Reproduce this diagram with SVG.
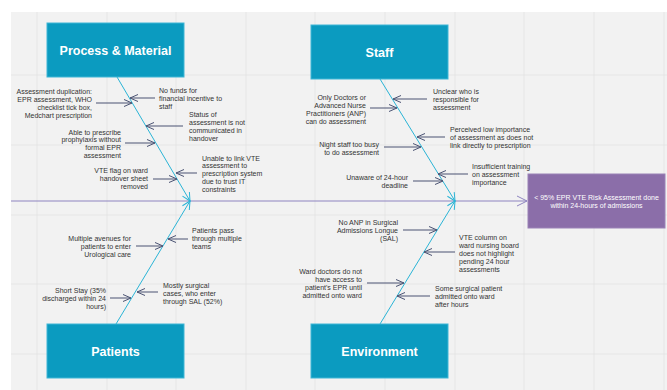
<svg xmlns="http://www.w3.org/2000/svg" width="667" height="390" viewBox="0 0 667 390">
<defs>
<style>
.t{font-family:"Liberation Sans",Arial,sans-serif;font-size:7px;fill:#333}
.e{text-anchor:end}
.h{font-family:"Liberation Sans",Arial,sans-serif;font-size:12.5px;font-weight:bold;fill:#fff;text-anchor:middle}
.box{fill:#0b9bc0;stroke:#3fb6d6;stroke-width:1}
.bone{stroke:#2ab4d6;stroke-width:1;fill:none;marker-end:url(#mb)}
.ca{stroke:#4a5272;stroke-width:1;fill:none;marker-end:url(#mc)}
.g{stroke:#e3e3e3;stroke-width:0.8}
</style>
<marker id="mb" markerUnits="userSpaceOnUse" markerWidth="10" markerHeight="10" viewBox="0 0 10 10" refX="9" refY="5" orient="auto"><path d="M1,1 L9,5 L1,9" fill="none" stroke="#2ab4d6" stroke-width="1"/></marker>
<marker id="mc" markerUnits="userSpaceOnUse" markerWidth="10" markerHeight="10" viewBox="0 0 10 10" refX="9" refY="5" orient="auto"><path d="M1,1.5 L9,5 L1,8.5" fill="none" stroke="#4a5272" stroke-width="1"/></marker>
<marker id="ms" markerUnits="userSpaceOnUse" markerWidth="12" markerHeight="12" viewBox="0 0 12 12" refX="11" refY="6" orient="auto"><path d="M1,1 L11,6 L1,11" fill="none" stroke="#8e84c0" stroke-width="1"/></marker>
</defs>
<rect x="0" y="0" width="667" height="390" fill="#fff"/>
<rect x="11" y="12" width="656" height="378" fill="#f2f2f2"/>
<g id="grid">
<line class="g" x1="37" y1="12" x2="37" y2="390"/><line class="g" x1="107" y1="12" x2="107" y2="390"/><line class="g" x1="176" y1="12" x2="176" y2="390"/><line class="g" x1="246" y1="12" x2="246" y2="390"/><line class="g" x1="315" y1="12" x2="315" y2="390"/><line class="g" x1="385" y1="12" x2="385" y2="390"/><line class="g" x1="455" y1="12" x2="455" y2="390"/><line class="g" x1="524" y1="12" x2="524" y2="390"/><line class="g" x1="594" y1="12" x2="594" y2="390"/><line class="g" x1="664" y1="12" x2="664" y2="390"/>
<line class="g" x1="11" y1="75" x2="667" y2="75"/><line class="g" x1="11" y1="145" x2="667" y2="145"/><line class="g" x1="11" y1="215" x2="667" y2="215"/><line class="g" x1="11" y1="284" x2="667" y2="284"/><line class="g" x1="11" y1="354" x2="667" y2="354"/>
</g>
<g id="connectors">
<line x1="11" y1="201" x2="527" y2="201" stroke="#8e84c0" stroke-width="1" marker-end="url(#ms)"/>
<line class="bone" x1="117" y1="77" x2="190" y2="201"/>
<line class="bone" x1="116" y1="324" x2="190" y2="201"/>
<line class="bone" x1="380" y1="79" x2="455" y2="201"/>
<line class="bone" x1="380" y1="324" x2="455" y2="201"/>
<line class="ca" x1="96" y1="103" x2="132" y2="103"/>
<line class="ca" x1="155" y1="98" x2="130" y2="98"/>
<line class="ca" x1="183" y1="126" x2="146" y2="126"/>
<line class="ca" x1="125" y1="143" x2="155" y2="143"/>
<line class="ca" x1="197" y1="173" x2="176" y2="173"/>
<line class="ca" x1="153" y1="179" x2="177" y2="179"/>
<line class="ca" x1="370" y1="108" x2="397" y2="108"/>
<line class="ca" x1="427" y1="99" x2="393" y2="99"/>
<line class="ca" x1="445" y1="137" x2="417" y2="137"/>
<line class="ca" x1="384" y1="147" x2="421" y2="147"/>
<line class="ca" x1="468" y1="174" x2="438" y2="174"/>
<line class="ca" x1="413" y1="181" x2="443" y2="181"/>
<line class="ca" x1="136" y1="246" x2="163" y2="246"/>
<line class="ca" x1="188" y1="239" x2="168" y2="239"/>
<line class="ca" x1="110" y1="298" x2="131" y2="298"/>
<line class="ca" x1="158" y1="292" x2="137" y2="292"/>
<line class="ca" x1="403" y1="230" x2="437" y2="230"/>
<line class="ca" x1="455" y1="252" x2="424" y2="252"/>
<line class="ca" x1="367" y1="283" x2="404" y2="283"/>
<line class="ca" x1="430" y1="296" x2="397" y2="296"/>
</g>
<g id="process">
<rect class="box" x="47" y="23" width="137" height="54"/>
<text class="h" x="115.5" y="55">Process &amp; Material</text>
</g>
<g id="staff">
<rect class="box" x="311" y="25" width="137" height="54"/>
<text class="h" x="379.5" y="56.5">Staff</text>
</g>
<g id="patients">
<rect class="box" x="47" y="324" width="137" height="54"/>
<text class="h" x="115.5" y="355.5">Patients</text>
</g>
<g id="environment">
<rect class="box" x="311" y="324" width="137" height="54"/>
<text class="h" x="379.5" y="355.5">Environment</text>
</g>
<g id="effect">
<rect x="528" y="174" width="137" height="54" fill="#8b6ea9" stroke="#9a82b6" stroke-width="1"/>
<text class="t" x="596.5" y="200" text-anchor="middle" style="fill:#fff">&lt; 95% EPR VTE Risk Assessment done</text>
<text class="t" x="596.5" y="208" text-anchor="middle" style="fill:#fff">within 24-hours of admissions</text>
</g>
<g id="process-causes">
<text class="t e" x="92" y="93.5">Assessment duplication:</text>
<text class="t e" x="92" y="101.5">EPR assessment, WHO</text>
<text class="t e" x="92" y="109.5">checklist tick box,</text>
<text class="t e" x="92" y="117.5">Medchart prescription</text>
<text class="t" x="159" y="92.5">No funds for</text>
<text class="t" x="159" y="100.5">financial incentive to</text>
<text class="t" x="159" y="108.5">staff</text>
<text class="t" x="189" y="116.5">Status of</text>
<text class="t" x="189" y="124.5">assessment is not</text>
<text class="t" x="189" y="132.5">communicated in</text>
<text class="t" x="189" y="140.5">handover</text>
<text class="t e" x="121" y="134.5">Able to prescribe</text>
<text class="t e" x="121" y="142.3">prophylaxis without</text>
<text class="t e" x="121" y="150.1">formal EPR</text>
<text class="t e" x="121" y="157.9">assessment</text>
<text class="t" x="202" y="160.5">Unable to link VTE</text>
<text class="t" x="202" y="168.3">assessment to</text>
<text class="t" x="202" y="176.1">prescription system</text>
<text class="t" x="202" y="183.9">due to trust IT</text>
<text class="t" x="202" y="191.7">constraints</text>
<text class="t e" x="148" y="172.5">VTE flag on ward</text>
<text class="t e" x="148" y="180.5">handover sheet</text>
<text class="t e" x="148" y="188.5">removed</text>
</g>
<g id="staff-causes">
<text class="t e" x="366" y="99.5">Only Doctors or</text>
<text class="t e" x="366" y="107.5">Advanced Nurse</text>
<text class="t e" x="366" y="115.5">Practitioners (ANP)</text>
<text class="t e" x="366" y="123.5">can do assessment</text>
<text class="t" x="433" y="93.5">Unclear who is</text>
<text class="t" x="433" y="101.5">responsible for</text>
<text class="t" x="433" y="109.5">assessment</text>
<text class="t" x="450" y="131.5">Perceived low importance</text>
<text class="t" x="450" y="139.5">of assessment as does not</text>
<text class="t" x="450" y="147.5">link directly to prescription</text>
<text class="t e" x="379" y="146.5">Night staff too busy</text>
<text class="t e" x="379" y="154.5">to do assessment</text>
<text class="t" x="472" y="168.5">Insufficient training</text>
<text class="t" x="472" y="176.5">on assessment</text>
<text class="t" x="472" y="184.5">importance</text>
<text class="t e" x="408" y="179.5">Unaware of 24-hour</text>
<text class="t e" x="408" y="187.5">deadline</text>
</g>
<g id="patients-causes">
<text class="t e" x="131" y="240.5">Multiple avenues for</text>
<text class="t e" x="131" y="248.5">patients to enter</text>
<text class="t e" x="131" y="256.5">Urological care</text>
<text class="t" x="192" y="232.5">Patients pass</text>
<text class="t" x="192" y="240.5">through multiple</text>
<text class="t" x="192" y="248.5">teams</text>
<text class="t e" x="106" y="292.5">Short Stay (35%</text>
<text class="t e" x="106" y="300.5">discharged within 24</text>
<text class="t e" x="106" y="308.5">hours)</text>
<text class="t" x="163" y="287.5">Mostly surgical</text>
<text class="t" x="163" y="295.5">cases, who enter</text>
<text class="t" x="163" y="303.5">through SAL (52%)</text>
</g>
<g id="environment-causes">
<text class="t e" x="398" y="224.5">No ANP in Surgical</text>
<text class="t e" x="398" y="232.5">Admissions Longue</text>
<text class="t e" x="398" y="240.5">(SAL)</text>
<text class="t" x="459" y="239.5">VTE column on</text>
<text class="t" x="459" y="247.5">ward nursing board</text>
<text class="t" x="459" y="255.5">does not highlight</text>
<text class="t" x="459" y="263.5">pending 24 hour</text>
<text class="t" x="459" y="271.5">assessments</text>
<text class="t e" x="362" y="273.5">Ward doctors do not</text>
<text class="t e" x="362" y="281.5">have access to</text>
<text class="t e" x="362" y="289.5">patient's EPR until</text>
<text class="t e" x="362" y="297.5">admitted onto ward</text>
<text class="t" x="435" y="290.5">Some surgical patient</text>
<text class="t" x="435" y="298.5">admitted onto ward</text>
<text class="t" x="435" y="306.5">after hours</text>
</g>
</svg>
